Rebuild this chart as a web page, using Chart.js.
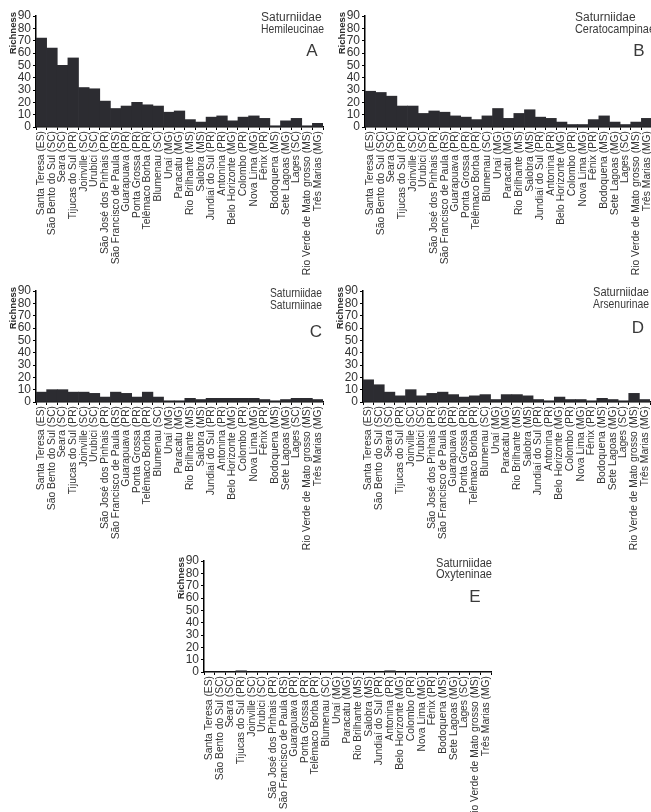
<!DOCTYPE html>
<html><head><meta charset="utf-8">
<script src="https://cdn.jsdelivr.net/npm/chart.js@4/dist/chart.umd.min.js"></script>
<style>
html,body{margin:0;padding:0;background:#fff;width:651px;height:812px;overflow:hidden;position:relative}
canvas{position:absolute}
</style></head><body>
<canvas id="ca" width="336" height="285" style="left:0px;top:0px"></canvas>
<canvas id="cb" width="336" height="285" style="left:329px;top:0px"></canvas>
<canvas id="cc" width="336" height="285" style="left:0px;top:275px"></canvas>
<canvas id="cd" width="336" height="285" style="left:327px;top:275px"></canvas>
<canvas id="ce" width="336" height="285" style="left:168px;top:545px"></canvas>
<script>
const categories = ["Santa Teresa (ES)","São Bento do Sul (SC)","Seara (SC)","Tijucas do Sul (PR)","Joinville (SC)","Urubici (SC)","São José dos Pinhais (PR)","São Francisco de Paula (RS)","Guarapuava (PR)","Ponta Grossa (PR)","Telêmaco Borba (PR)","Blumenau (SC)","Unaí (MG)","Paracatu (MG)","Rio Brilhante (MS)","Salobra (MS)","Jundiaí do Sul (PR)","Antonina (PR)","Belo Horizonte (MG)","Colombo (PR)","Nova Lima (MG)","Fênix (PR)","Bodoquena (MS)","Sete Lagoas (MG)","Lages (SC)","Rio Verde de Mato grosso (MS)","Três Marias (MG)"];
const yTicks = [0,10,20,30,40,50,60,70,80,90];
const hemileucinae   = [72,64,50,56,32,31,21,15,17,20,18,17,12,13,6,4,8,9,5,8,9,7,1,5,7,1,3];
const ceratocampinae = [29,28,25,17,17,11,13,12,9,8,6,9,15,7,11,14,8,7,4,2,2,6,9,4,2,4,7];
const saturniinae    = [8,10,10,8,8,7,4,8,7,4,8,4,1,1,3,2,3,3,3,3,3,2,1,2,3,3,2];
const arsenurinae    = [18,14,8,5,10,5,7,8,6,4,5,6,2,6,6,5,2,1,4,2,2,1,3,2,1,7,2];
const oxyteninae     = [0,0,0,1,0,0,0,0,0,0,0,0,0,0,0,0,0,1,0,0,0,0,0,0,0,0,0];

const FONT = '"Liberation Sans", Arial, sans-serif';
const annot = {
  id:'annot',
  afterDraw(chart, args, o){
    const ctx = chart.ctx, a = chart.chartArea;
    ctx.save();
    ctx.fillStyle = '#3a3a3a';
    ctx.font = '12px ' + FONT;
    ctx.textAlign = 'left'; ctx.textBaseline = 'alphabetic';
    ctx.fillText(o.family, a.right + o.tx, a.top + o.ty1, o.mw);
    ctx.fillText(o.sub, a.right + o.tx, a.top + o.ty2, o.mw2 || o.mw);
    ctx.font = '17px ' + FONT; ctx.textAlign = 'center';
    ctx.fillText(o.letter, a.right + o.lx, a.top + o.ly);
    ctx.translate(a.left - 23, a.top - 4);
    ctx.rotate(-Math.PI/2);
    ctx.fillStyle = '#2a2a2a';
    ctx.font = 'bold 9.5px ' + FONT; ctx.textAlign = 'right'; ctx.textBaseline = 'middle';
    ctx.fillText('Richness', 0, 0);
    ctx.restore();
  }
};

function makeChart(id, values, an){
  new Chart(document.getElementById(id), {
    type:'bar',
    data:{ labels: categories, datasets:[{ data: values, backgroundColor:'#2c2c31', borderWidth:0, barPercentage:1, categoryPercentage:1 }]},
    options:{
      responsive:false, animation:false,
      layout:{ padding:{ top:16, right:13, left:0, bottom:0 } },
      plugins:{ legend:{display:false}, tooltip:{enabled:false}, annot: an },
      scales:{
        x:{
          afterFit:(s)=>{ s.height = 158; },
          grid:{ display:true, drawOnChartArea:false, drawTicks:true, tickLength:3, color:'#000', offset:true },
          border:{ display:true, color:'#000', width:1.5 },
          ticks:{ autoSkip:false, maxRotation:90, minRotation:90, padding:1, color:'#333', font:{ family:FONT, size:10.3 } }
        },
        y:{
          min:0, max:90,
          afterFit:(s)=>{ s.width = 36; },
          afterBuildTicks:(s)=>{ s.ticks = yTicks.map(v=>({value:v})); },
          grid:{ display:true, drawOnChartArea:false, drawTicks:true, tickLength:3, color:'#000' },
          border:{ display:true, color:'#000', width:1.5 },
          ticks:{ autoSkip:false, padding:2, color:'#333', font:{ family:FONT, size:12 } }
        }
      }
    },
    plugins:[annot]
  });
}

makeChart('ca', hemileucinae,   {family:'Saturniidae', sub:'Hemileucinae',   letter:'A', tx:-62, ty1:4.5, ty2:16.5, lx:-11, ly:40, mw:63});
makeChart('cb', ceratocampinae, {family:'Saturniidae', sub:'Ceratocampinae', letter:'B', tx:-77, ty1:4.5, ty2:16.5, lx:-13, ly:40, mw:63, mw2:80});
makeChart('cc', saturniinae,    {family:'Saturniidae', sub:'Saturniinae',    letter:'C', tx:-53, ty1:5.5, ty2:17.5, lx:-7,  ly:46, mw:52});
makeChart('cd', arsenurinae,    {family:'Saturniidae', sub:'Arsenurinae',    letter:'D', tx:-57, ty1:5,   ty2:17,   lx:-12, ly:42, mw:56});
makeChart('ce', oxyteninae,     {family:'Saturniidae', sub:'Oxyteninae',     letter:'E', tx:-55, ty1:5.5, ty2:17,   lx:-16, ly:41, mw:56});
</script>
</body></html>
